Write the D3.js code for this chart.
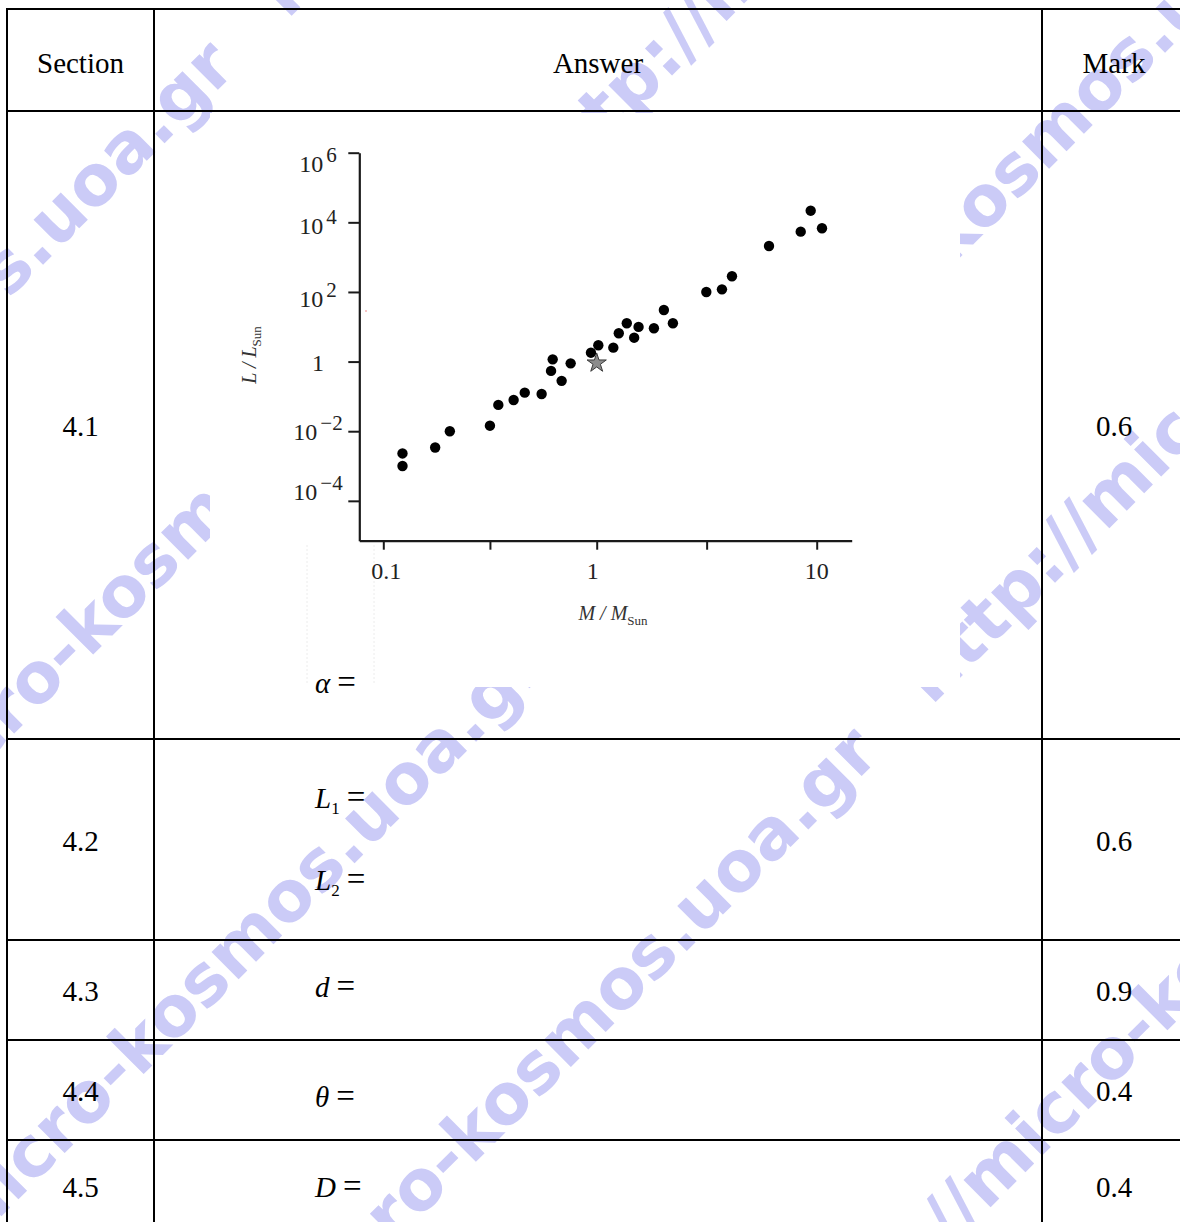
<!DOCTYPE html>
<html>
<head>
<meta charset="utf-8">
<script src="https://cdn.jsdelivr.net/npm/d3@7"></script>
<style>
  html, body { margin: 0; padding: 0; background: #fff; }
  svg { display: block; }
</style>
</head>
<body>
<svg id="page" width="1180" height="1222"></svg>
<script>
// ---- Mass–luminosity relation of main-sequence stars (solar units) ----
const starMass = [0.123, 0.123, 0.175, 0.205, 0.316, 0.346, 0.408, 0.460, 0.552, 0.611,
                  0.622, 0.685, 0.755, 0.940, 1.017, 1.19, 1.26, 1.37, 1.48, 1.55,
                  1.82, 2.02, 2.22, 3.15, 3.71, 4.12, 6.07, 8.46, 9.39, 10.57];
const starLum  = [2.3e-3, 1.0e-3, 3.4e-3, 1.0e-2, 1.44e-2, 0.057, 0.079, 0.128, 0.117, 0.54,
                  1.16, 0.28, 0.89, 1.80, 2.94, 2.51, 6.5, 12.6, 4.86, 9.9,
                  9.05, 30.4, 12.6, 100, 119, 282, 2090, 5390, 21600, 6750];
const sunMass = 1;
const sunLum = 1;

const massTicks      = [0.1, 0.316, 1, 3.16, 10];
const massTickLabels = ["0.1", "", "1", "", "10"];
const lumTicks       = [1e-4, 1e-2, 1, 1e2, 1e4, 1e6];
const lumTickBase    = ["10", "10", "1", "10", "10", "10"];
const lumTickExp     = ["\u22124", "\u22122", "", "2", "4", "6"];

// ---- Answer sheet table ----
const headers  = ["Section", "Answer", "Mark"];
const sections = ["4.1", "4.2", "4.3", "4.4", "4.5"];
const marks    = ["0.6", "0.6", "0.9", "0.4", "0.4"];
const answerSymbols = [["\u03B1"], ["L", "L"], ["d"], ["\u03B8"], ["D"]];
const answerSubs    = [[""], ["1", "2"], [""], [""], [""]];

const watermarkText = "http://micro-kosmos.uoa.gr";

const svg = d3.select("#page");

// ---------- watermark layer (underneath everything) ----------
const wmFont = 70;
const wmLines = [   // [x+y of the line, start offset along the line]
  [280, -957], [720, -899], [1190, -1160], [1610, -987], [2170, -405]
];
const wm = svg.append("g")
  .attr("fill", "#cbcbf7")
  .attr("font-family", "'DejaVu Sans', sans-serif")
  .attr("font-weight", "bold")
  .attr("font-size", wmFont);
wmLines.forEach(([c, u0]) => {
  wm.append("text")
    .attr("transform", "rotate(-45)")
    .attr("x", u0)
    .attr("y", c / Math.SQRT2 + 0.28 * wmFont)
    .text(d3.range(4).map(() => watermarkText).join("\u2003"));
});

// ---------- embedded plot panel ----------
const panel = svg.append("g");
panel.append("rect")
  .attr("x", 210).attr("y", 113).attr("width", 750).attr("height", 574)
  .attr("fill", "#fff");
// faint scan marks on the panel
panel.selectAll("line.faint").data([307, 374]).join("line")
  .attr("class", "faint")
  .attr("x1", d => d).attr("x2", d => d)
  .attr("y1", 545).attr("y2", 685)
  .attr("stroke", "#ececec").attr("stroke-dasharray", "2,2");
panel.append("circle").attr("cx", 366).attr("cy", 311).attr("r", 1)
  .attr("fill", "#f5b0b0");

const x = d3.scaleLog()
  .domain([0.0772, 0.1, 1, 10, 14.42])
  .range([359.3, 383.3, 596.7, 816.7, 851.7]);
const y = d3.scaleLog()
  .domain([Math.pow(10, -5.145), 1e6])
  .range([540.7, 152.7]);

const axisColor = "#1a1a1a";

const yAxis = panel.append("g")
  .attr("transform", "translate(359.3,0)")
  .call(d3.axisLeft(y).tickValues(lumTicks).tickSize(11).tickSizeOuter(0).tickFormat(""));
const xAxis = panel.append("g")
  .attr("transform", "translate(0,540.7)")
  .call(d3.axisBottom(x).tickValues(massTicks).tickSize(9).tickSizeOuter(0).tickFormat(""));
[xAxis, yAxis].forEach(a => {
  a.select(".domain").attr("stroke", axisColor).attr("stroke-width", 2.2);
  a.selectAll(".tick line").attr("stroke", axisColor).attr("stroke-width", 2);
});

// y tick labels: powers of ten
const yLabelShift = [-1, 9, 9.5, 15, 11.5, 19];
const yLabels = panel.append("g")
  .attr("font-family", "'Liberation Serif', serif")
  .attr("fill", "#222")
  .attr("text-anchor", "middle");
lumTicks.forEach((v, i) => {
  const t = yLabels.append("text")
    .attr("x", 318)
    .attr("y", y(v) + yLabelShift[i])
    .attr("font-size", 24);
  t.append("tspan").text(lumTickBase[i]);
  if (lumTickExp[i]) {
    t.append("tspan").attr("dx", 3).attr("dy", -10).attr("font-size", 21).text(lumTickExp[i]);
  }
});

// x tick labels
const xLabelShift = [3, 0, -4, 0, 0];
panel.append("g")
  .attr("font-family", "'Liberation Serif', serif")
  .attr("font-size", 24)
  .attr("fill", "#222")
  .attr("text-anchor", "middle")
  .selectAll("text")
  .data(massTicks.map((v, i) => ({ v, label: massTickLabels[i], dx: xLabelShift[i] })).filter(d => d.label))
  .join("text")
  .attr("x", d => x(d.v) + d.dx)
  .attr("y", 579)
  .text(d => d.label);

// axis titles
const xTitle = panel.append("text")
  .attr("x", 613).attr("y", 620)
  .attr("text-anchor", "middle")
  .attr("font-family", "'Liberation Serif', serif")
  .attr("font-size", 20)
  .attr("fill", "#333");
xTitle.append("tspan").attr("font-style", "italic").text("M / M");
xTitle.append("tspan").attr("font-size", 13).attr("dy", 5).text("Sun");

const yTitle = panel.append("text")
  .attr("transform", "translate(256,355) rotate(-90)")
  .attr("text-anchor", "middle")
  .attr("font-family", "'Liberation Serif', serif")
  .attr("font-size", 20)
  .attr("fill", "#333");
yTitle.append("tspan").attr("font-style", "italic").text("L / L");
yTitle.append("tspan").attr("font-size", 13).attr("dy", 5).text("Sun");

// stars
panel.append("g")
  .selectAll("circle")
  .data(starMass.map((m, i) => ({ m, l: starLum[i] })))
  .join("circle")
  .attr("cx", d => x(d.m))
  .attr("cy", d => y(d.l))
  .attr("r", 5.2)
  .attr("fill", "#000");

// the Sun
panel.append("path")
  .attr("d", d3.symbol(d3.symbolStar, 115)())
  .attr("transform", `translate(${x(sunMass)},${y(sunLum) + 1.5})`)
  .attr("fill", "#8c8c8c")
  .attr("stroke", "#3a3a3a")
  .attr("stroke-width", 1);

// ---------- table ----------
const colX = [7, 154, 1042, 1186];
const rowY = [9, 111, 739, 940, 1040, 1140, 1232];
const grid = svg.append("g").attr("stroke", "#000").attr("stroke-width", 2);
rowY.forEach(yy => grid.append("line")
  .attr("x1", colX[0] - 1).attr("x2", colX[3]).attr("y1", yy).attr("y2", yy));
colX.forEach(xx => grid.append("line")
  .attr("x1", xx).attr("x2", xx).attr("y1", rowY[0] - 1).attr("y2", rowY[rowY.length - 1]));

const textFont = "'Liberation Serif', 'Times New Roman', serif";
const colCenter = i => (colX[i] + colX[i + 1]) / 2;
const rowCenter = i => (rowY[i] + rowY[i + 1]) / 2;

const tbl = svg.append("g")
  .attr("font-family", textFont)
  .attr("font-size", 29)
  .attr("fill", "#000")
  .attr("text-anchor", "middle");
headers.forEach((h, i) => tbl.append("text")
  .attr("x", colCenter(i)).attr("y", 73).text(h));
sections.forEach((s, i) => tbl.append("text")
  .attr("x", colCenter(0)).attr("y", rowCenter(i + 1) + 11).text(s));
marks.forEach((m, i) => tbl.append("text")
  .attr("x", 1114).attr("y", rowCenter(i + 1) + 11).text(m));

// answer blanks
const answerBaselines = [[693], [808, 890], [997], [1107], [1197]];
const ans = svg.append("g")
  .attr("font-family", textFont)
  .attr("font-size", 29)
  .attr("fill", "#000");
answerSymbols.forEach((syms, r) => {
  syms.forEach((sym, k) => {
    const t = ans.append("text").attr("x", 315).attr("y", answerBaselines[r][k]);
    t.append("tspan").attr("font-style", "italic").text(sym);
    const sub = answerSubs[r][k];
    if (sub) {
      t.append("tspan").attr("font-size", 17).attr("dy", 6).text(sub);
      t.append("tspan").attr("dy", -6).attr("dx", 7).attr("font-size", 33).text("=");
    } else {
      t.append("tspan").attr("dx", 7).attr("font-size", 33).text("=");
    }
  });
});
</script>
</body>
</html>
